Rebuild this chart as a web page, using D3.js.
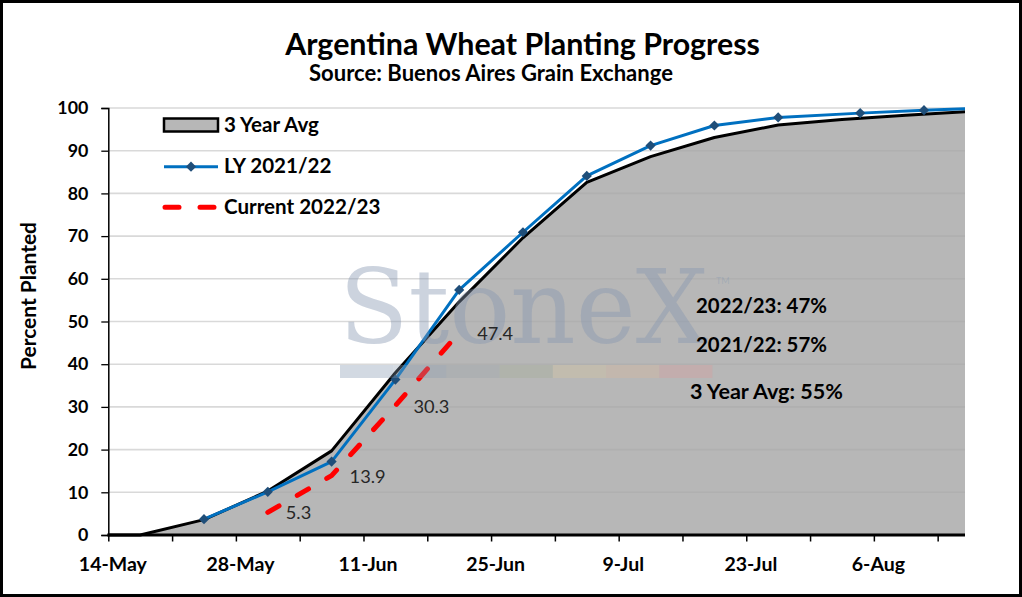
<!DOCTYPE html>
<html><head><meta charset="utf-8">
<script src="https://cdn.jsdelivr.net/npm/d3@7/dist/d3.min.js"></script>
<style>
html,body{margin:0;padding:0;background:#fff;}
svg{display:block;}
</style></head>
<body>
<svg id="chart" width="1022" height="597" font-family="Lato, 'Open Sans', sans-serif"></svg>
<script>
// ---------- data ----------
const avgDates  = ["2022-05-10","2022-05-17","2022-05-24","2022-05-31","2022-06-07","2022-06-14","2022-06-21","2022-06-28","2022-07-05","2022-07-12","2022-07-19","2022-07-26","2022-08-02","2022-08-09","2022-08-16"];
const avgValues = [0, 0, 3.6, 10.3, 19.7, 38.0, 54.6, 69.6, 82.6, 88.6, 93.1, 96.0, 97.3, 98.3, 99.2];

const lyDates  = ["2022-05-24","2022-05-31","2022-06-07","2022-06-14","2022-06-21","2022-06-28","2022-07-05","2022-07-12","2022-07-19","2022-07-26","2022-08-04","2022-08-11","2022-08-18"];
const lyValues = [3.7, 10.1, 17.2, 36.4, 57.4, 70.9, 84.1, 91.2, 95.9, 97.8, 98.8, 99.5, 100];

const curDates  = ["2022-05-31","2022-06-07","2022-06-14","2022-06-21"];
const curValues = [5.3, 13.9, 30.3, 47.4];

const yTicks = [0,10,20,30,40,50,60,70,80,90,100];
const xLabelDates = ["2022-05-14","2022-05-28","2022-06-11","2022-06-25","2022-07-09","2022-07-23","2022-08-06"];
const seriesNames = ["3 Year Avg","LY 2021/22","Current 2022/23"];
const summaryTexts = ["2022/23: 47%","2021/22: 57%","3 Year Avg: 55%"];
const titleText = "Argentina Wheat Planting Progress";
const subtitleText = "Source: Buenos Aires Grain Exchange";
const yTitle = "Percent Planted";

// ---------- helpers ----------
const parse = d3.timeParse("%Y-%m-%d");
const mid = s => d3.timeHour.offset(parse(s), 12);
const fmt = d3.timeFormat("%-d-%b");

const svg = d3.select("#chart");
const W = 1022, H = 597;
const L = 108.3, R = 965, T = 108, B = 535;

const x = d3.scaleTime().domain([parse("2022-05-14"), parse("2022-08-16")]).range([L, R]);
const y = d3.scaleLinear().domain([0, 100]).range([B, T]);

svg.append("rect").attr("x",0).attr("y",0).attr("width",W).attr("height",H).attr("fill","#fff");

svg.append("defs").append("clipPath").attr("id","plotclip")
  .append("rect").attr("x",L).attr("y",T-10).attr("width",R-L).attr("height",B-T+12);

function sizeFor(sample, target, bold, base){
  const t = svg.append("text").attr("font-size",base).attr("font-weight",bold?"bold":"normal").text(sample);
  const w = t.node().getComputedTextLength(); t.remove();
  return base*target/w;
}
function fit(sel, target){
  const w = sel.node().getComputedTextLength();
  const fs = parseFloat(sel.attr("font-size"));
  sel.attr("font-size", fs*target/w);
}

const fsX = sizeFor("14-May", 68, true, 17);
const fsY = sizeFor("100", 31, true, 17);
const fsLeg = sizeFor("3 Year Avg", 95, true, 17);
const fsLab = sizeFor("47.4", 36, false, 17);

// title
const t1 = svg.append("text").attr("x",522.5).attr("y",55).attr("text-anchor","middle")
  .attr("font-size",26).attr("font-weight","bold").attr("fill","#000").text(titleText);
fit(t1, 475);
const t2 = svg.append("text").attr("x",491).attr("y",81).attr("text-anchor","middle")
  .attr("font-size",18).attr("font-weight","bold").attr("fill","#000").text(subtitleText);
fit(t2, 364);

// gridlines
svg.append("g").selectAll("line").data(yTicks.filter(d=>d>0)).join("line")
  .attr("x1",L).attr("x2",R).attr("y1",d=>y(d)).attr("y2",d=>y(d))
  .attr("stroke","#d9d9d9").attr("stroke-width",1.6);

const plot = svg.append("g").attr("clip-path","url(#plotclip)");

// 3 year avg area
const avgData = avgDates.map((d,i)=>({date:mid(d), v:avgValues[i]}));
plot.append("path").datum(avgData)
  .attr("d", d3.area().x(d=>x(d.date)).y0(y(0)).y1(d=>y(d.v)))
  .attr("fill","#a5a5a5").attr("fill-opacity",0.8);

// watermark (translucent, on top of the area)
const wm = svg.append("g").attr("pointer-events","none");
wm.append("text").attr("x",339).attr("y",343)
  .style("font-family","'DejaVu Serif','Liberation Serif',serif")
  .attr("font-size",102).attr("fill","#8597b0").attr("fill-opacity",0.42)
  .attr("textLength",369).attr("lengthAdjust","spacingAndGlyphs").text("StoneX");
wm.append("text").attr("x",716).attr("y",284).attr("font-size",9).attr("fill","#8597b0").attr("fill-opacity",0.4).text("TM");
const wmColors = ["#7d91ab","#8a9bb0","#9aa3a9","#a4ab95","#d6c59f","#d9b79c","#d99c9c"];
wm.selectAll("rect.seg").data(wmColors).join("rect").attr("class","seg")
  .attr("x",(d,i)=>340+i*53.2).attr("y",365).attr("width",53.2).attr("height",13)
  .attr("fill",d=>d).attr("fill-opacity",0.35);

// avg line
plot.append("path").datum(avgData)
  .attr("d", d3.line().x(d=>x(d.date)).y(d=>y(d.v)))
  .attr("fill","none").attr("stroke","#000").attr("stroke-width",3).attr("stroke-linejoin","round");

// LY line
const lyData = lyDates.map((d,i)=>({date:mid(d), v:lyValues[i]}));
plot.append("path").datum(lyData)
  .attr("d", d3.line().x(d=>x(d.date)).y(d=>y(d.v)))
  .attr("fill","none").attr("stroke","#0070c0").attr("stroke-width",3).attr("stroke-linejoin","round");
const diamond = d3.symbol(d3.symbolSquare, 52);
plot.append("g").selectAll("path").data(lyData).join("path")
  .attr("d", diamond)
  .attr("transform", d=>`translate(${x(d.date)},${y(d.v)}) rotate(45)`)
  .attr("fill","#1f4e79");

// Current dashed line
const curData = curDates.map((d,i)=>({date:mid(d), v:curValues[i]}));
plot.append("path").datum(curData)
  .attr("d", d3.line().x(d=>x(d.date)).y(d=>y(d.v)))
  .attr("fill","none").attr("stroke","#ff0000").attr("stroke-width",5)
  .attr("stroke-linecap","round").attr("stroke-dasharray","13,21");

// data labels
svg.append("g").selectAll("text").data(curData).join("text")
  .attr("x", d=>x(d.date)+18).attr("y", d=>y(d.v)+7)
  .attr("font-size",fsLab).attr("fill","#262626").text(d=>d.v.toFixed(1));

// axes
const yAxis = d3.axisLeft(y).tickValues(yTicks).tickSize(7).tickPadding(13).tickFormat(d3.format("d"));
const gy = svg.append("g").attr("transform",`translate(${L},0)`).call(yAxis);
gy.attr("font-family",null).attr("font-size",null);
gy.select(".domain").attr("stroke","#000").attr("stroke-width",1.5);
gy.selectAll(".tick line").attr("stroke","#000").attr("stroke-width",1.3);
gy.selectAll(".tick text").attr("font-size",fsY).attr("font-weight","bold").attr("fill","#000");

const weekTicks = d3.range(0,14).map(i=>d3.timeDay.offset(parse("2022-05-14"), i*7));
const xAxis = d3.axisBottom(x).tickValues(weekTicks).tickSize(6.5).tickFormat("");
const gx = svg.append("g").attr("transform",`translate(0,${B})`).call(xAxis);
gx.select(".domain").remove();
gx.selectAll(".tick line").attr("stroke","#000").attr("stroke-width",1.5);
svg.append("line").attr("x1",L-1).attr("x2",R).attr("y1",B).attr("y2",B).attr("stroke","#000").attr("stroke-width",3);

svg.append("g").selectAll("text").data(xLabelDates).join("text")
  .attr("x", d=>x(mid(d))).attr("y", 571).attr("text-anchor","middle")
  .attr("font-size",fsX).attr("font-weight","bold").attr("fill","#000").text(d=>fmt(parse(d)));

// y title
const yt = svg.append("text").attr("transform","translate(36,296) rotate(-90)").attr("text-anchor","middle")
  .attr("font-size",17).attr("font-weight","bold").attr("fill","#000").text(yTitle);
fit(yt, 148);

// legend
const lg = svg.append("g");
const lgY = [125, 166.7, 207.3];
lg.append("rect").attr("x",164).attr("y",lgY[0]-6.5).attr("width",54).attr("height",13)
  .attr("fill","#b7b7b7").attr("stroke","#000").attr("stroke-width",2.5);
lg.append("line").attr("x1",164).attr("x2",218).attr("y1",lgY[1]).attr("y2",lgY[1]).attr("stroke","#0070c0").attr("stroke-width",3);
lg.append("path").attr("d",diamond).attr("transform",`translate(191,${lgY[1]}) rotate(45)`).attr("fill","#1f4e79");
lg.append("line").attr("x1",165).attr("x2",217).attr("y1",lgY[2]).attr("y2",lgY[2]).attr("stroke","#ff0000").attr("stroke-width",5)
  .attr("stroke-linecap","round").attr("stroke-dasharray","14,21");
lg.selectAll("text").data(seriesNames).join("text")
  .attr("x",224).attr("y",(d,i)=>lgY[i]+6.5).attr("font-size",fsLeg).attr("font-weight","bold").attr("fill","#000").text(d=>d);

// summary annotations
const sumX = [696, 696, 690], sumY = [313, 352, 399], sumW = [131, 131, 153];
summaryTexts.forEach((s,i)=>{
  const t = svg.append("text").attr("x",sumX[i]).attr("y",sumY[i]).attr("font-size",18)
    .attr("font-weight","bold").attr("fill","#000").text(s);
  fit(t, sumW[i]);
});

// outer border
svg.append("rect").attr("x",1.5).attr("y",1.5).attr("width",W-3).attr("height",H-3)
  .attr("fill","none").attr("stroke","#000").attr("stroke-width",3);
</script>
</body></html>
